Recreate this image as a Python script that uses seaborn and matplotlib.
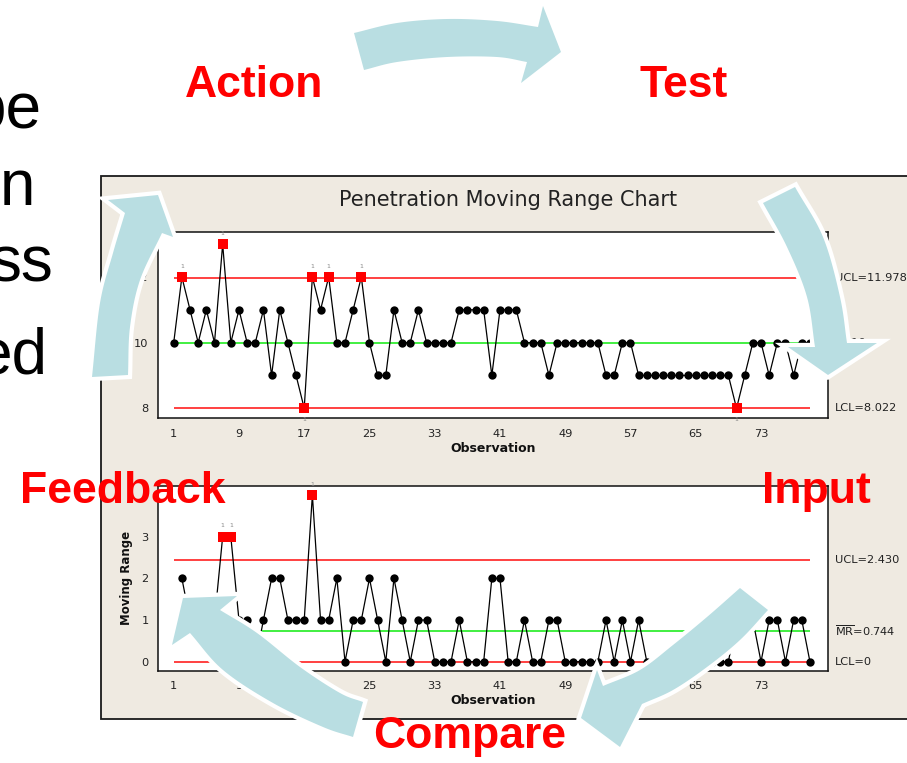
import numpy as np
import pandas as pd
import matplotlib
matplotlib.use("Agg")
import matplotlib.pyplot as plt
import matplotlib.transforms as mtransforms
from matplotlib.patches import Rectangle, Polygon
import seaborn as sns

# ---------------- data ----------------
observations = list(range(1, 80))
penetration = [10, 12, 11, 10, 11, 10, 13, 10, 11, 10,
               10, 11, 9, 11, 10, 9, 8, 12, 11, 12,
               10, 10, 11, 12, 10, 9, 9, 11, 10, 10,
               11, 10, 10, 10, 10, 11, 11, 11, 11, 9,
               11, 11, 11, 10, 10, 10, 9, 10, 10, 10,
               10, 10, 10, 9, 9, 10, 10, 9, 9, 9,
               9, 9, 9, 9, 9, 9, 9, 9, 9, 8,
               9, 10, 10, 9, 10, 10, 9, 10, 10]
moving_range = [np.nan, 2, 1, 1, 1, 1, 3, 3, 1, 1,
                0, 1, 2, 2, 1, 1, 1, 4, 1, 1,
                2, 0, 1, 1, 2, 1, 0, 2, 1, 0,
                1, 1, 0, 0, 0, 1, 0, 0, 0, 2,
                2, 0, 0, 1, 0, 0, 1, 1, 0, 0,
                0, 0, 0, 1, 0, 1, 0, 1, 0, 0,
                0, 0, 0, 0, 0, 0, 0, 0, 0, 1,
                1, 1, 0, 1, 1, 0, 1, 1, 0]
i_limits = {"UCL": 11.978, "CL": 10.0, "LCL": 8.022}
mr_limits = {"UCL": 2.430, "CL": 0.744, "LCL": 0.0}
i_limit_labels = ["UCL=11.978", "X\u0304=10", "LCL=8.022"]
mr_limit_labels = ["UCL=2.430", r"$\overline{\mathrm{MR}}$=0.744", "LCL=0"]
x_ticks = list(range(1, 80, 8))
i_yticks = [8, 10, 12]
mr_yticks = [0, 1, 2, 3, 4]
mr_yticklabels = ["0", "1", "2", "3", ""]
title = "Penetration Moving Range Chart"
cycle_words = ["Action", "Test", "Input", "Compare", "Feedback"]
side_words = ["be", "n", "ss", "ed"]

# ---------------- style ----------------
sns.set_style("white")
plt.rcParams["font.family"] = ["DejaVu Sans"]

W, H = 907, 763
fig = plt.figure(figsize=(W / 100, H / 100), dpi=100)
fig.patch.set_facecolor("white")

BEIGE = "#EFEAE1"
ARROW = "#B9DEE2"
RED = "#FF0000"

# background layer (pixel coordinates)
bg = fig.add_axes([0, 0, 1, 1], zorder=0)
bg.set_xlim(0, W); bg.set_ylim(H, 0); bg.axis("off")
bg.add_patch(Rectangle((101, 176), 830, 543, facecolor=BEIGE,
                       edgecolor="#1a1a1a", lw=1.3))
bg.text(508, 200, title, ha="center", va="center", fontsize=15, color="#222222")

# side text (cut off slide text)
for word, xr, yb in zip(side_words, [42, 35, 53, 47], [127, 205, 281, 373]):
    bg.text(xr, yb, word, ha="right", va="baseline", fontsize=46,
            family="Liberation Sans", color="black")


def px_axes(left, top, right, bottom):
    return fig.add_axes([left / W, 1 - bottom / H, (right - left) / W,
                         (bottom - top) / H], zorder=1)


ax1 = px_axes(158.3, 231.7, 828.3, 418.3)
ax2 = px_axes(158.3, 485.7, 828.3, 671.0)


def control_panel(ax, values, limits, labels, ylim, yticks, yticklabels, ylabel):
    df = pd.DataFrame({"Observation": observations, "Value": values})
    df = df.dropna()
    out = (df["Value"] > limits["UCL"]) | (df["Value"] < limits["LCL"])
    df["Status"] = np.where(out, "out", "in")
    ax.set_facecolor("white")
    first, last = observations[0], observations[-1]
    ax.hlines([limits["UCL"], limits["LCL"]], first, last, color="#FF2020", lw=1.2, zorder=2)
    ax.hlines(limits["CL"], first, last, color="#33EE33", lw=1.3, zorder=2)
    sns.lineplot(data=df, x="Observation", y="Value", color="black", lw=0.9,
                 ax=ax, zorder=3)
    sns.scatterplot(data=df[df["Status"] == "in"], x="Observation", y="Value",
                    color="black", marker="o", s=36, linewidth=0, ax=ax, zorder=4)
    sns.scatterplot(data=df[df["Status"] == "out"], x="Observation", y="Value",
                    color="red", marker="s", s=44, linewidth=0, ax=ax, zorder=5)
    for _, r in df[df["Status"] == "out"].iterrows():
        above = r["Value"] > limits["UCL"]
        ax.annotate("1", (r["Observation"], r["Value"]),
                    xytext=(0, 6 if above else -6), textcoords="offset points",
                    ha="center", va="bottom" if above else "top",
                    fontsize=4.5, color="#888888", zorder=6)
    ax.set_xlim(-0.89, 81.25)
    ax.set_ylim(*ylim)
    ax.set_xticks(x_ticks)
    ax.set_yticks(yticks)
    ax.set_yticklabels(yticklabels)
    ax.tick_params(axis="both", direction="out", length=4, width=1, color="black",
                   labelsize=8.2, labelcolor="#222222", pad=3)
    ax.tick_params(axis="x", pad=3.5)
    for s in ax.spines.values():
        s.set_visible(True); s.set_color("#111111"); s.set_linewidth(1.1)
    ax.set_xlabel("Observation", fontsize=9, fontweight="bold", color="#111111")
    ax.xaxis.set_label_coords(0.5, -0.125)
    ax.set_ylabel(ylabel, fontsize=8.5, fontweight="bold", color="#111111")
    ax.yaxis.set_label_coords(-0.038, 0.5)
    tr = mtransforms.blended_transform_factory(ax.transAxes, ax.transData)
    for key, lab in zip(["UCL", "CL", "LCL"], labels):
        ax.text(1.01, limits[key], lab, transform=tr, ha="left", va="center",
                fontsize=8.2, color="#222222", clip_on=False)


control_panel(ax1, penetration, i_limits, i_limit_labels, (7.695, 13.38),
              i_yticks, [str(v) for v in i_yticks], "Individual Value")
control_panel(ax2, moving_range, mr_limits, mr_limit_labels, (-0.223, 4.224),
              mr_yticks, mr_yticklabels, "Moving Range")

# ---------------- overlay: cycle arrows and words ----------------
ov = fig.add_axes([0, 0, 1, 1], zorder=5)
ov.set_xlim(0, W); ov.set_ylim(H, 0); ov.axis("off")
ov.patch.set_alpha(0)


def smooth(pts, n=14):
    pts = np.asarray(pts, float)
    if len(pts) < 3:
        return pts
    P = np.vstack([2 * pts[0] - pts[1], pts, 2 * pts[-1] - pts[-2]])
    res = []
    for i in range(1, len(P) - 2):
        p0, p1, p2, p3 = P[i - 1], P[i], P[i + 1], P[i + 2]
        for t in np.linspace(0, 1, n, endpoint=False):
            res.append(0.5 * (2 * p1 + (-p0 + p2) * t
                              + (2 * p0 - 5 * p1 + 4 * p2 - p3) * t * t
                              + (-p0 + 3 * p1 - 3 * p2 + p3) * t ** 3))
    res.append(pts[-1])
    return np.array(res)


def arrow(edge_a, head, edge_b, outline=True):
    pts = np.vstack([smooth(edge_a), np.asarray(head, float), smooth(edge_b)])
    if outline:
        ov.add_patch(Polygon(pts, closed=True, facecolor="white",
                             edgecolor="white", lw=6, joinstyle="miter"))
    ov.add_patch(Polygon(pts, closed=True, facecolor=ARROW,
                         edgecolor="none", lw=0))


# Action -> Test
arrow([(354, 33), (397, 23), (447, 19), (497, 21), (538, 27)],
      [(543, 6), (561, 52), (521, 83)],
      [(527, 62), (497, 57), (447, 57), (397, 62), (364, 70)], outline=False)
# Test -> Input
arrow([(763, 203), (787, 247), (807, 297), (815, 347)],
      [(788, 347), (828, 375), (877, 343)],
      [(847, 343), (840, 297), (823, 237), (795, 187)])
# Input -> Compare
arrow([(768, 610), (740, 640), (707, 667), (673, 690), (642, 704)],
      [(620, 747), (581, 718), (597, 670)],
      [(603, 686), (640, 670), (673, 645), (707, 617), (740, 588)])
# Compare -> Feedback
arrow([(363, 702), (340, 693), (300, 667), (257, 633), (220, 610)],
      [(237, 596), (183, 598), (172, 645)],
      [(190, 633), (223, 670), (273, 703), (323, 727), (353, 737)])
# Feedback -> Action
arrow([(92, 377), (100, 303), (113, 253), (125, 213)],
      [(108, 200), (158, 195), (173, 237)],
      [(162, 233), (140, 280), (130, 327), (128, 375)])

for word, (xc, yb) in zip(cycle_words, [(254, 97), (684, 97), (816, 503),
                                        (470, 748), (123, 503)]):
    ov.text(xc, yb, word, ha="center", va="baseline", fontsize=32,
            fontweight="bold", family="Liberation Sans", color=RED)

fig.savefig("out.png", dpi=100, facecolor="white")
